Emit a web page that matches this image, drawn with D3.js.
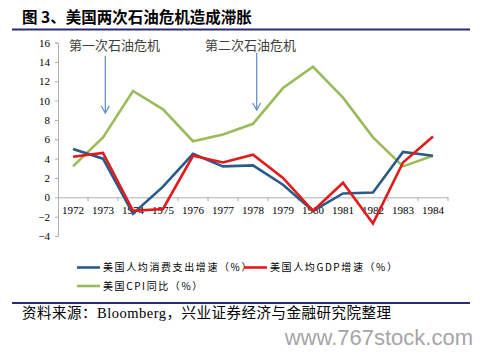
<!DOCTYPE html>
<html><head><meta charset="utf-8">
<script src="https://cdn.jsdelivr.net/npm/d3@7"></script>
<style>
body{margin:0;background:#fff;}
svg{display:block;}
</style></head>
<body><svg id="c" width="483" height="356"></svg>
<script>
const years = ["1972","1973","1974","1975","1976","1977","1978","1979","1980","1981","1982","1983","1984"];
const consumption = [5.0, 4.0, -1.7, 1.1, 4.5, 3.2, 3.3, 1.3, -1.4, 0.4, 0.5, 4.7, 4.3];
const gdp = [4.2, 4.6, -1.4, -1.2, 4.3, 3.6, 4.4, 2.0, -1.4, 1.5, -2.7, 3.6, 6.3];
const cpi = [3.2, 6.2, 11.0, 9.1, 5.8, 6.5, 7.6, 11.3, 13.5, 10.3, 6.2, 3.2, 4.3];
const yTicks = [-4, -2, 0, 2, 4, 6, 8, 10, 12, 14, 16];
const seriesNames = ["美国人均消费支出增速（%）", "美国人均GDP增速（%）", "美国CPI同比（%）"];
const seriesColors = ["#2a5a8a", "#e01b1b", "#9bbb59"];
const annotations = [{year: "1973", text: "第一次石油危机"}, {year: "1978", text: "第二次石油危机"}];

const svg = d3.select("#c");
const serif = "'Liberation Serif','Times New Roman','Noto Sans CJK SC',serif";
const cjk = "'Noto Sans CJK SC','Noto Sans CJK TC',sans-serif";

// title
svg.append("text").attr("x", 22).attr("y", 23).attr("font-family", cjk)
  .attr("font-weight", "bold").attr("font-size", 15.5).attr("fill", "#000")
  .text("图 3、美国两次石油危机造成滞胀");
svg.append("line").attr("x1", 12).attr("x2", 470).attr("y1", 29.5).attr("y2", 29.5)
  .attr("stroke", "#2b2d6e").attr("stroke-width", 2);

const x = d3.scaleBand().domain(years).range([58, 448]);
const y = d3.scaleLinear().domain([-4, 16]).range([236, 42.6]);

// y axis
const yAxis = svg.append("g").attr("transform", "translate(58,0)")
  .call(d3.axisLeft(y).tickValues(yTicks).tickSize(3).tickPadding(5));
yAxis.select(".domain").attr("stroke", "#b0b0b0");
yAxis.selectAll(".tick line").attr("stroke", "#b0b0b0");
yAxis.selectAll("text").attr("font-family", serif).attr("font-size", 11).attr("fill", "#000");

// x axis at 0
const xAxis = svg.append("g").attr("transform", `translate(0,${y(0)})`)
  .call(d3.axisBottom(x).tickSize(0).tickPadding(9));
xAxis.select(".domain").attr("stroke", "#b0b0b0");
xAxis.selectAll("text").attr("font-family", serif).attr("font-size", 11).attr("fill", "#000");
// boundary ticks
const bounds = years.map(d => x(d)).concat([x(years[years.length-1]) + x.bandwidth()]);
svg.append("g").selectAll("line").data(bounds.slice(1)).join("line")
  .attr("x1", d => d).attr("x2", d => d).attr("y1", y(0)).attr("y2", y(0) + 4)
  .attr("stroke", "#b0b0b0");

const line = d3.line().x((d, i) => x(years[i]) + x.bandwidth() / 2).y(d => y(d));
[cpi, consumption, gdp].forEach((s, k) => {
  const idx = [2, 0, 1][k];
  svg.append("path").attr("d", line(s)).attr("fill", "none")
    .attr("stroke", seriesColors[idx]).attr("stroke-width", 2.6).attr("stroke-linejoin", "miter");
});

// annotations
annotations.forEach((a, i) => {
  svg.append("text").attr("x", i === 0 ? 69 : 205).attr("y", 50)
    .attr("font-family", cjk).attr("font-size", 13).attr("fill", "#404040").text(a.text);
  const ax = i === 0 ? 105.3 : 256.7;
  const y1 = i === 0 ? 56 : 53, y2 = i === 0 ? 113 : 110;
  svg.append("line").attr("x1", ax).attr("x2", ax).attr("y1", y1).attr("y2", y2)
    .attr("stroke", "#5b8cc8").attr("stroke-width", 1.2);
  svg.append("path").attr("d", `M${ax-4},${y2-7}L${ax},${y2}L${ax+4},${y2-7}`)
    .attr("fill", "none").attr("stroke", "#5b8cc8").attr("stroke-width", 1.2);
});

// legend
const leg = [{i: 0, x: 77, y: 267.5}, {i: 1, x: 244, y: 267.5}, {i: 2, x: 77, y: 286}];
leg.forEach(l => {
  svg.append("line").attr("x1", l.x).attr("x2", l.x + 23).attr("y1", l.y).attr("y2", l.y)
    .attr("stroke", seriesColors[l.i]).attr("stroke-width", 2.6);
  svg.append("text").attr("x", l.x + 26).attr("y", l.y + 3.8).attr("font-family", cjk)
    .attr("font-size", 10).attr("letter-spacing", 1.6).attr("fill", "#000").text(seriesNames[l.i]);
});

// source
svg.append("line").attr("x1", 12).attr("x2", 470).attr("y1", 303).attr("y2", 303)
  .attr("stroke", "#2b2d6e").attr("stroke-width", 2);
svg.append("text").attr("x", 22).attr("y", 318).attr("font-family", serif)
  .attr("font-size", 14.5).attr("letter-spacing", 0.5).attr("fill", "#000")
  .text("资料来源：Bloomberg，兴业证券经济与金融研究院整理");

// watermark
svg.append("text").attr("x", 473).attr("y", 345).attr("text-anchor", "end")
  .attr("font-family", "'Liberation Sans',Arial,sans-serif").attr("font-size", 22)
  .attr("fill", "#a6a6a6").text("www.767stock.com");
</script></body></html>
